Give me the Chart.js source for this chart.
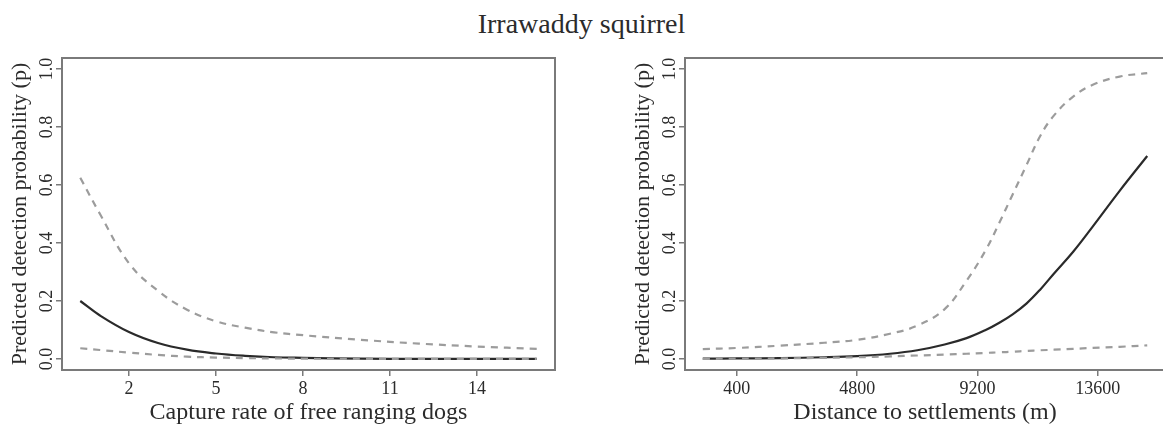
<!DOCTYPE html>
<html>
<head>
<meta charset="utf-8">
<script src="https://cdn.jsdelivr.net/npm/chart.js@4.4.1/dist/chart.umd.min.js"></script>
<style>
  html, body { margin: 0; padding: 0; background: #fff; width: 1163px; height: 432px; overflow: hidden; position: relative; }
  #title { position: absolute; left: 0; width: 1163px; top: 7px; text-align: center; font-family: "Liberation Serif", serif; font-size: 28px; color: #2b2b2b; line-height: 34px; }
  .wrap { position: absolute; top: 0; height: 432px; }
  #w1 { left: 0; width: 580px; }
  #w2 { left: 580px; width: 600px; }
</style>
</head>
<body>
<div id="title">Irrawaddy squirrel</div>
<div class="wrap" id="w1"><canvas id="c1"></canvas></div>
<div class="wrap" id="w2"><canvas id="c2"></canvas></div>
<script>
// ---- Left panel: capture rate of free ranging dogs ----
const dogX     = [0.32, 1, 2, 3, 4, 5, 6, 7, 8, 10, 12, 14, 16.06];
const dogFit   = [0.200, 0.150, 0.093, 0.055, 0.032, 0.019, 0.011, 0.006, 0.004, 0.001, 0.0005, 0.0002, 0.0001];
const dogUpper = [0.625, 0.500, 0.330, 0.235, 0.170, 0.130, 0.108, 0.092, 0.082, 0.066, 0.053, 0.043, 0.035];
const dogLower = [0.037, 0.031, 0.022, 0.014, 0.008, 0.005, 0.003, 0.002, 0.001, 0.0004, 0.0002, 0.0001, 0.0001];
const dogTicks = [2, 5, 8, 11, 14];

// ---- Right panel: distance to settlements ----
const distX     = [-845, 400, 2000, 3600, 4800, 6000, 7000, 8000, 8800, 9500, 10000, 10500, 11000, 11500, 12000, 12700, 13400, 14400, 15408];
const distFit   = [0.001, 0.002, 0.003, 0.006, 0.010, 0.018, 0.030, 0.050, 0.072, 0.100, 0.125, 0.155, 0.192, 0.240, 0.295, 0.370, 0.455, 0.580, 0.700];
const distUpper = [0.034, 0.038, 0.046, 0.056, 0.066, 0.087, 0.115, 0.172, 0.270, 0.375, 0.470, 0.570, 0.670, 0.770, 0.840, 0.905, 0.945, 0.974, 0.986];
const distLower = [0.0005, 0.001, 0.002, 0.004, 0.006, 0.009, 0.012, 0.015, 0.018, 0.021, 0.023, 0.025, 0.028, 0.030, 0.032, 0.035, 0.038, 0.042, 0.047];
const distTicks = [400, 4800, 9200, 13600];

const yTicks = [0, 0.2, 0.4, 0.6, 0.8, 1.0];
const yTitle = "Predicted detection probability (p)";

const SERIF = "'Liberation Serif', 'DejaVu Serif', serif";
const AXIS_COLOR = '#7a7a7a';
const TEXT_COLOR = '#2b2b2b';

function pts(xs, ys) { return xs.map((x, i) => ({x: x, y: ys[i]})); }

const boxPlugin = {
  id: 'box',
  afterDatasetsDraw(chart) {
    const a = chart.chartArea, ctx = chart.ctx;
    ctx.save();
    ctx.strokeStyle = AXIS_COLOR;
    ctx.lineWidth = 2;
    ctx.strokeRect(a.left, a.top, a.right - a.left, a.bottom - a.top);
    // rotated y tick labels (R style, parallel to axis)
    const ys = chart.scales.y;
    ctx.fillStyle = TEXT_COLOR;
    ctx.font = "18px " + SERIF;
    ctx.textAlign = 'center';
    ctx.textBaseline = 'middle';
    yTicks.forEach(v => {
      const py = ys.getPixelForValue(v);
      ctx.save();
      ctx.translate(ys.right - 15, py);
      ctx.rotate(-Math.PI / 2);
      ctx.fillText(v.toFixed(1), 0, 0);
      ctx.restore();
    });
    ctx.restore();
  }
};

function makeChart(id, xs, fit, up, lo, xTicks, xMin, xMax, xTitle, padLeft, padRight) {
  const common = { pointRadius: 0, pointHoverRadius: 0, borderWidth: 2.2, tension: 0.4, fill: false };
  return new Chart(document.getElementById(id), {
    type: 'line',
    data: {
      datasets: [
        Object.assign({ label: 'upper', data: pts(xs, up), borderColor: '#9c9c9c', borderDash: [7, 6] }, common),
        Object.assign({ label: 'lower', data: pts(xs, lo), borderColor: '#9c9c9c', borderDash: [7, 6] }, common),
        Object.assign({ label: 'fit', data: pts(xs, fit), borderColor: '#2a2a2a' }, common)
      ]
    },
    options: {
      responsive: true,
      maintainAspectRatio: false,
      animation: false,
      events: [],
      layout: { padding: { top: 58, right: padRight, bottom: 0, left: padLeft } },
      plugins: { legend: { display: false }, tooltip: { enabled: false }, title: { display: false } },
      scales: {
        x: {
          type: 'linear',
          min: xMin, max: xMax,
          afterBuildTicks: s => { s.ticks = xTicks.map(v => ({ value: v })); },
          afterFit: s => { s.height = 62; },
          grid: { drawOnChartArea: false, drawTicks: true, tickLength: 6, color: AXIS_COLOR, lineWidth: 1.5 },
          border: { display: false },
          ticks: { color: TEXT_COLOR, font: { family: SERIF, size: 18 }, padding: 2, maxRotation: 0, minRotation: 0, autoSkip: false, callback: v => String(v) },
          title: { display: true, text: xTitle, color: TEXT_COLOR, font: { family: SERIF, size: 24, lineHeight: 1.2 }, padding: { top: 0, bottom: 5 } }
        },
        y: {
          type: 'linear',
          min: -0.038, max: 1.038,
          afterBuildTicks: s => { s.ticks = yTicks.map(v => ({ value: v })); },
          afterFit: s => { s.width = 62; },
          grid: { drawOnChartArea: false, drawTicks: true, tickLength: 6, color: AXIS_COLOR, lineWidth: 1.5 },
          border: { display: false },
          ticks: { display: false },
          title: { display: true, text: yTitle, color: TEXT_COLOR, font: { family: SERIF, size: 22, lineHeight: 1.2 }, padding: { top: 7, bottom: 0 } }
        }
      }
    },
    plugins: [boxPlugin]
  });
}

makeChart('c1', dogX, dogFit, dogUpper, dogLower, dogTicks, -0.31, 16.69, 'Capture rate of free ranging dogs', 0, 25);
makeChart('c2', distX, distFit, distUpper, distLower, distTicks, -1495, 16058, 'Distance to settlements (m)', 43, 15);
</script>
</body>
</html>
